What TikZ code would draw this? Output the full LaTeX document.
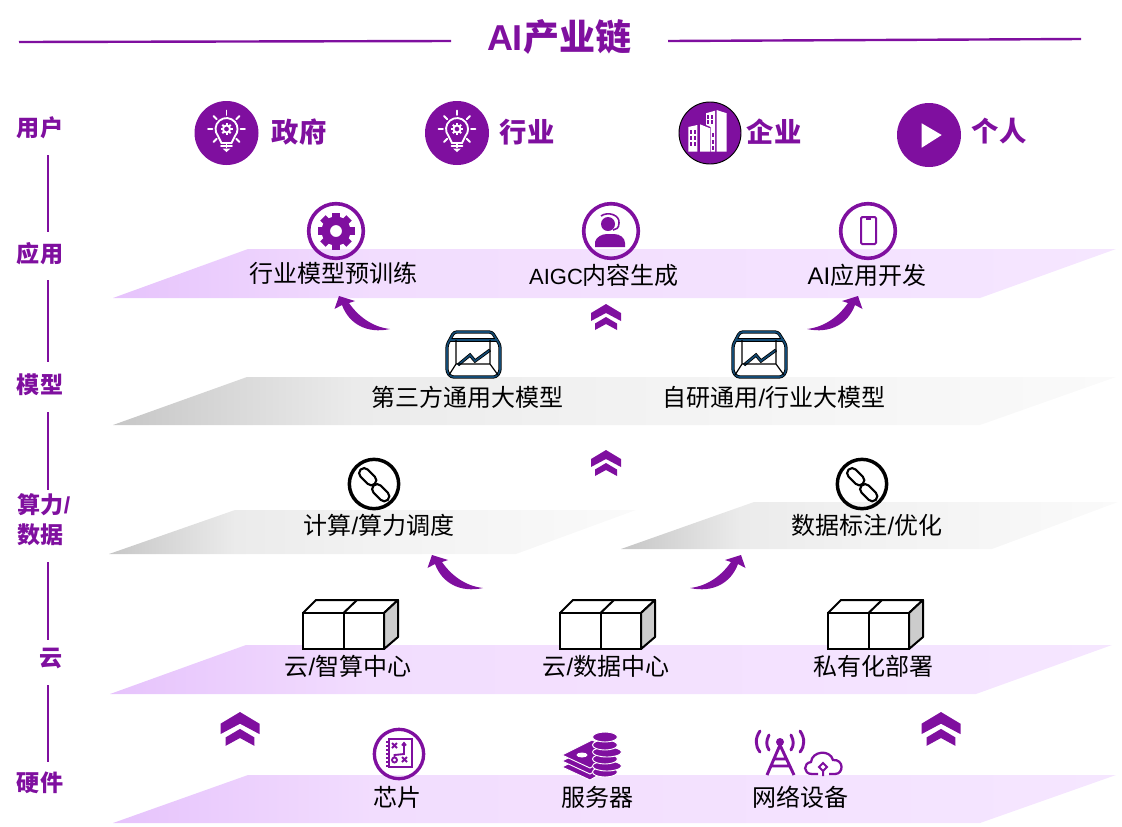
\documentclass[tikz,border=0pt]{standalone}
\usepackage{fontspec}
\setmainfont{Noto Sans CJK SC}
\newfontfamily\latn{Liberation Sans}
\usetikzlibrary{positioning}
\definecolor{aipurple}{HTML}{7F0F9F}
\definecolor{chartblue}{HTML}{134A73}
\definecolor{bandA}{HTML}{E6C3FC}
\definecolor{bandB}{HTML}{F2DDFE}
\definecolor{bandC}{HTML}{F5E6FF}
\definecolor{greyA}{HTML}{C6C6C6}
\definecolor{greyB}{HTML}{EBEBEB}
\definecolor{greyC}{HTML}{F2F2F2}
\definecolor{greyD}{HTML}{FAFAFA}
\pgfdeclarehorizontalshading{purpleband}{100bp}{color(0bp)=(bandA); color(25bp)=(bandA); color(38bp)=(bandB); color(75bp)=(bandC); color(100bp)=(bandC)}
\pgfdeclarehorizontalshading{greyband}{100bp}{color(0bp)=(greyA); color(25bp)=(greyA); color(37bp)=(greyB); color(50bp)=(greyC); color(75bp)=(greyD); color(100bp)=(greyD)}
\tikzset{
	flip/.style={yscale=-1},
	bandpurple/.style={shading=purpleband},
	bandgrey/.style={shading=greyband},
	bandtext/.style={inner sep=0.75pt,font=\fontsize{18pt}{20pt}\selectfont},
	usertext/.style={inner sep=0.75pt,text=aipurple,font=\fontsize{20.5pt}{24pt}\selectfont\bfseries},
	sidetext/.style={inner sep=0.75pt,text=aipurple,align=left,font=\fontsize{17.3pt}{22.5pt}\selectfont\bfseries},
	sideline/.style={draw=aipurple,line width=1.1pt},
	titleline/.style={draw=aipurple,line width=1.8pt},
	disc/.style={circle,fill=aipurple,minimum size=48pt,inner sep=0pt},
	ring/.style={circle,draw=aipurple,line width=2.7pt,minimum size=41pt,inner sep=0pt},
	blackring/.style={circle,draw=black,line width=2.6pt,minimum size=37pt,inner sep=0pt},
	whiteicon/.style={draw=white,line width=1.4pt,line cap=round},
	pics/bulb/.style={code={
		\draw[whiteicon] (-5,10) -- (-8.4,3.1) arc[start angle=140,end angle=400,radius=11] -- (5,10) -- cycle;
		\draw[whiteicon] (0,-4) circle (3.5);
		\foreach \a in {0,45,...,315} \fill[white,rotate around={\a:(0,-4)}] (-1,-10) rectangle (1,-7);
		\foreach \a in {-90,-45,0,45,90,135,180,225} \draw[whiteicon,shift={(0,-4)},rotate=\a] (14,0) -- (18.5,0);
		\draw[whiteicon] (-5.5,13) -- (5.5,13);
		\fill[white] (-4,15.5) -- (4,15.5) -- (0,19) -- cycle;
	}},
	pics/cubes/.style={code={
		\draw[fill=white,line width=1.5pt,line join=round] (0,-36) -- (13,-49) -- (95,-49) -- (81,-36) -- cycle;
		\draw[line width=1.5pt] (40.5,-36) -- (54,-49);
		\draw[fill=black!20,line width=1.5pt,line join=round] (81,0) -- (95,-12) -- (95,-49) -- (81,-36) -- cycle;
		\draw[fill=white,line width=1.5pt] (0,-36) rectangle (40.5,0);
		\draw[fill=white,line width=1.5pt] (40.5,-36) rectangle (81,0);
	}},
	pics/chevrons/.style={code={
		\fill[aipurple] (0,0) -- (15,9) -- (15,17) -- (0,9) -- (-15,17) -- (-15,9) -- cycle;
		\fill[aipurple] (0,13) -- (11,19.5) -- (11,26) -- (0,20) -- (-11,26) -- (-11,19.5) -- cycle;
	}},
	pics/bentarrow/.style={code={
		\fill[aipurple] (0,0) -- (16,5) -- (10,7) .. controls (19,20) and (33,31) .. (51,33) .. controls (28,38) and (10,28) .. (3,9) -- (-4.5,13) -- cycle;
	}},
	pics/chartbox/.style={code={
		\foreach \c/\w in {black/2.4pt,chartblue/1.2pt}{
			\draw[draw=\c,line width=\w,rounded corners=2pt] (8,0) -- (46,0) -- (54,13) -- (54,40) -- (50,45) -- (5,45) -- (1,40) -- (1,13) -- cycle;
			\draw[draw=\c,line width=\w] (3,8) -- (52,8);
			\draw[draw=\c,line width=\w] (12,33) -- (24,23) -- (29,29) -- (44,18);
		}
		\draw[line width=0.9pt] (10,8) -- (10,32) -- (44,32) -- (44,8) (10,32) -- (3,43) (44,32) -- (52,43);
	}},
	pics/chainlink/.style={code={
		\draw[line width=1.6pt,rounded corners=3.6pt,shift={(-6.3,-7.3)},rotate=45] (-10,-5) rectangle (10,5);
		\draw[line width=1.6pt,rounded corners=3.6pt,shift={(6.7,8.7)},rotate=45] (-10,-5) rectangle (10,5);
	}},
}
\begin{document}
\begin{tikzpicture}[x=0.75pt,y=0.75pt,yscale=-1,xscale=1]
	\useasboundingbox (0,0) rectangle (1122,826);

	%Title
	\node [inner sep=0.75pt,text=aipurple,font=\fontsize{27pt}{30pt}\selectfont\bfseries] (title) at (559,37) {{\latn AI}产业链};
	\coordinate (titleA) at (19,42);
	\coordinate (titleB) at (451,41);
	\coordinate (titleC) at (668,41);
	\coordinate (titleD) at (1081,39);
	\draw [titleline] (titleA) -- (titleB);
	\draw [titleline] (titleC) -- (titleD);

	%Bands
	\shade [bandpurple] (113,298) -- (248,249) -- (1116,249) -- (980,298) -- cycle;
	\shade [bandgrey] (113,425) -- (247,377) -- (1116,377) -- (980,425) -- cycle;
	\shade [bandgrey] (109,554) -- (235,510) -- (636,510) -- (516,554) -- cycle;
	\shade [bandgrey] (621,549) -- (754,502) -- (1118,502) -- (992,549) -- cycle;
	\shade [bandpurple] (110,694) -- (246,645) -- (1112,645) -- (976,694) -- cycle;
	\shade [bandpurple] (113,823) -- (248,775) -- (1116,775) -- (980,823) -- cycle;

	%Left column
	\node [sidetext] (sideUser) at (40,128) {用户};
	\node [sidetext] (sideApp) at (40,254) {应用};
	\node [sidetext] (sideModel) at (40,385) {模型};
	\node [sidetext] (sideCompute) at (44,520) {算力{\latn /}\\数据};
	\node [sidetext] (sideCloud) at (51,658) {云};
	\node [sidetext] (sideHard) at (40,783) {硬件};
	\foreach \n/\ya/\yb in {1/155/232,2/280/362,3/412/490,4/562/640,5/685/762}{
		\coordinate (side\n a) at (48,\ya);
		\coordinate (side\n b) at (48,\yb);
		\draw [sideline] (side\n a) -- (side\n b);
	}

	%Users
	\node [disc] (discGov) at (226.5,133) {};
	\node [disc] (discInd) at (457,133) {};
	\node [disc,draw=black,line width=0.7pt,minimum size=46.5pt] (discEnt) at (710,133) {};
	\node [disc] (discPer) at (929,135) {};
	\pic [flip] at (discGov) {bulb};
	\pic [flip] at (discInd) {bulb};
	\begin{scope}[shift={(discEnt)},white]
		\fill (-21.7,-6) -- (-12.7,-8) -- (-12.7,18.7) -- (-21.7,18.7) -- cycle;
		\fill (-10,-8.7) -- (0,-4.7) -- (0,18.7) -- (-10,18.7) -- cycle;
		\fill (-4,-19.7) -- (5,-22.3) -- (5,18.7) -- (0.7,18.7) -- (0.7,-6) -- (-4,-8) -- cycle;
		\fill (6.7,-23) -- (16.7,-19.7) -- (16.7,18.7) -- (6.7,18.7) -- cycle;
		\foreach \y in {-3,3,9} \foreach \x in {-20,-16}
			\fill[aipurple] (\x,\y) rectangle ++(2,4);
		\foreach \y in {0,7,13} \fill[aipurple] (1.8,\y) rectangle ++(2,4);
		\foreach \y in {-18,-13} \foreach \x in {-3,1}
			\fill[aipurple] (\x,\y) rectangle ++(2,3.5);
	\end{scope}
	\fill [white] (921.7,123.3) -- (941.7,135) -- (921.7,147.7) -- cycle;
	\node [usertext] (textGov) at (299,132) {政府};
	\node [usertext] (textInd) at (527,132) {行业};
	\node [usertext] (textEnt) at (774,132) {企业};
	\node [usertext] (textPer) at (999,131) {个人};

	%Applications
	\node [ring] (ringGear) at (336,231) {};
	\begin{scope}[shift={(ringGear)}]
		\foreach \a in {0,45,...,315} \fill[aipurple,rotate=\a] (-3.8,-18.5) rectangle (3.8,-10);
		\fill [aipurple,even odd rule] (0,0) circle (14.5) (0,0) circle (6);
	\end{scope}
	\node [ring] (ringHead) at (611,231) {};
	\begin{scope}[shift={(ringHead)}]
		\fill [aipurple] (-3,-7) circle (7);
		\fill [aipurple] (-16,16) -- (-16,11) .. controls (-15,6) and (-9,3) .. (-4,3) -- (3,3) .. controls (9,3) and (14,7) .. (14,12) -- (14,16) -- cycle;
		\draw [aipurple,line width=1.2pt] (-10,-15) .. controls (-3,-20) and (9,-16) .. (8,-8) .. controls (8,-3) and (5,-1) .. (2,-1);
	\end{scope}
	\node [ring] (ringPhone) at (868,231) {};
	\begin{scope}[shift={(ringPhone)}]
		\draw [aipurple,line width=1.5pt,rounded corners=1pt] (-7,-14) rectangle (8,13);
		\draw [aipurple,line width=1.5pt] (-2,-12) -- (3,-12);
	\end{scope}
	\node [bandtext] (textTrain) at (333,273) {行业模型预训练};
	\node [bandtext] (textAigc) at (604,275) {{\latn\fontsize{16.5pt}{20pt}\selectfont AIGC}内容生成};
	\node [bandtext] (textDev) at (867,275) {{\latn AI}应用开发};

	%Arrows between layers
	\pic [flip] at (339,296) {bentarrow};
	\pic [flip,xscale=-1] at (858,296) {bentarrow};
	\pic [flip] at (432,555) {bentarrow};
	\pic [flip,xscale=-1] at (741,555) {bentarrow};
	\pic [flip] at (606,304) {chevrons};
	\pic [flip] at (606,450) {chevrons};
	\pic [flip,scale=1.3] at (240,712) {chevrons};
	\pic [flip,scale=1.3] at (941,712) {chevrons};

	%Models
	\pic [flip] at (446,332) {chartbox};
	\pic [flip] at (732,332) {chartbox};
	\node [bandtext] (textThird) at (467,397) {第三方通用大模型};
	\node [bandtext] (textOwn) at (774,397) {自研通用{\latn /}行业大模型};

	%Compute and data
	\node [blackring] (ringLinkA) at (374,484) {};
	\node [blackring] (ringLinkB) at (862,484) {};
	\pic [flip] at (ringLinkA) {chainlink};
	\pic [flip] at (ringLinkB) {chainlink};
	\node [bandtext] (textSched) at (379,525) {计算{\latn /}算力调度};
	\node [bandtext] (textLabel) at (867,525) {数据标注{\latn /}优化};

	%Cloud
	\pic [flip] at (303,649) {cubes};
	\pic [flip] at (560,649) {cubes};
	\pic [flip] at (828,649) {cubes};
	\node [bandtext] (textAi) at (348,666) {云{\latn /}智算中心};
	\node [bandtext] (textData) at (606,666) {云{\latn /}数据中心};
	\node [bandtext] (textPriv) at (873,666) {私有化部署};

	%Hardware
	\node [ring,line width=2.5pt,minimum size=37pt] (ringChip) at (399,754) {};
	\begin{scope}[shift={(ringChip)},aipurple,line width=1.4pt]
		\draw (-10,-15) rectangle (13,13);
		\foreach \y in {-12,-8,...,12} \draw (-13,\y) -- (-10,\y);
		\draw (-7,-11) -- (-2,-6) (-7,-6) -- (-2,-11) (3,3) -- (8,8) (3,8) -- (8,3);
		\draw (-4.5,6) circle (2.5);
		\draw (-4.5,3.5) -- (-4.5,1) -- (5,0) -- (5,-11) (3,-8.5) -- (5,-11) -- (7,-8.5);
	\end{scope}
	%Server stack
	\foreach \d in {12,6,0}
		\fill [aipurple,draw=white,line width=0.7pt] (562,755+\d) -- (592,740+\d) -- (618,752+\d) -- (590,768+\d) -- cycle;
	\fill [white] (582,755) ellipse [x radius=5.5,y radius=2.5];
	\foreach \y/\dx in {772/0,766/2,759/0,752/2,745/0,737/0}
		\fill [aipurple,draw=white,line width=0.7pt] (605+\dx,\y) ellipse [x radius=12.5+\dx,y radius=5];
	%Antenna and cloud
	\begin{scope}[aipurple,line width=2.2pt]
		\fill (780,742) circle (4);
		\draw (780,745) -- (767,775) (780,745) -- (794,775) (774,759) -- (786,759) (771,766) -- (789,766);
		\draw [line cap=round] (769,735) .. controls (766,741) and (766,745) .. (769,750);
		\draw [line cap=round] (791,735) .. controls (794,741) and (794,745) .. (791,750);
		\draw [line cap=round] (760,731) .. controls (755,738) and (755,746) .. (760,752);
		\draw [line cap=round] (800,731) .. controls (805,738) and (805,746) .. (800,752);
		\draw [line width=1.7pt] (818,774) -- (812,774) .. controls (803,774) and (803,763) .. (811,762) .. controls (812,751) and (830,749) .. (833,760) .. controls (844,759) and (844,774) .. (835,774) -- (829,774);
		\draw [line width=1.5pt] (823,763) -- (827,767) -- (823,771) -- (819,767) -- cycle (823,771) -- (823,776);
	\end{scope}
	\node [bandtext] (textChip) at (397,797) {芯片};
	\node [bandtext] (textServer) at (597,797) {服务器};
	\node [bandtext] (textNet) at (800,797) {网络设备};
\end{tikzpicture}
\end{document}
